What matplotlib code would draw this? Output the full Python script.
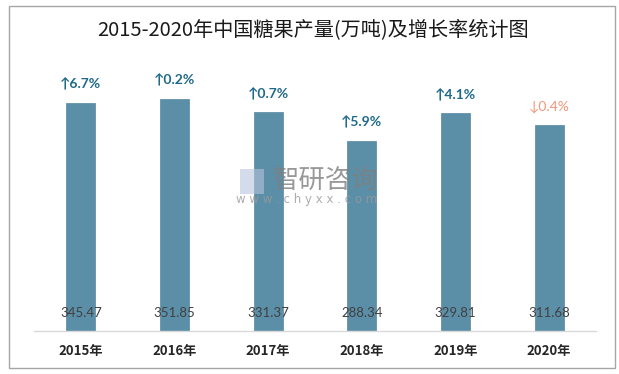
import matplotlib
matplotlib.use("Agg")
import matplotlib.pyplot as plt
from matplotlib.patches import Rectangle

plt.rcParams['font.family'] = ['Noto Sans CJK SC', 'DejaVu Sans']

years = ['2015年', '2016年', '2017年', '2018年', '2019年', '2020年']
output = [345.47, 351.85, 331.37, 288.34, 329.81, 311.68]
growth = [6.7, 0.2, 0.7, 5.9, 4.1, -0.4]

W, H = 619, 374
fig = plt.figure(figsize=(W / 100, H / 100), dpi=100)
fig.patch.set_facecolor('white')

# outer frame
fig.add_artist(Rectangle((9 / W, 1 - 368 / H), (615 - 9) / W, (368 - 6) / H,
                         transform=fig.transFigure, fill=False,
                         edgecolor='#a6a6a6', linewidth=1))

ax_left, ax_right = 34, 596
ax_bottom, ax_top = 331, 67
ax = fig.add_axes([ax_left / W, 1 - ax_bottom / H, (ax_right - ax_left) / W, (ax_bottom - ax_top) / H])

x = list(range(len(years)))
ax.bar(x, output, width=0.31, color='#5b8fa8', edgecolor='#5587a0', linewidth=0.5, zorder=2)
ax.set_xlim(-0.5, len(years) - 0.5)
ax.set_ylim(0, 400)

for s in ['top', 'right', 'left']:
    ax.spines[s].set_visible(False)
ax.spines['bottom'].set_color('#d9d9d9')
ax.spines['bottom'].set_linewidth(1)
ax.set_yticks([])
ax.set_xticks(x)
ax.set_xticklabels(years, fontsize=9.5, fontweight='bold', color='#262626')
ax.tick_params(axis='x', length=0, pad=9)

for i, v in enumerate(output):
    ax.text(i, 27, f'{v:.2f}', ha='center', va='center', fontsize=9.5, color='#404040',
            family=['Lato', 'DejaVu Sans'], zorder=3)

for i, (v, g) in enumerate(zip(output, growth)):
    if g >= 0:
        s = f'↑{g:.1f}%'
        col = '#1f6a8a'
        fw = 'bold'
    else:
        s = f'↓{abs(g):.1f}%'
        col = '#f0977a'
        fw = 'normal'
    ax.text(i, v + 28, s, ha='center', va='center', fontsize=10, color=col, fontweight=fw,
            family=['Lato', 'Noto Sans CJK SC', 'DejaVu Sans'], zorder=3)

fig.text(0.506, 1 - 30 / H, '2015-2020年中国糖果产量(万吨)及增长率统计图', ha='center', va='center',
         fontsize=14.5, color='#1a1a1a')

# watermark
fig.text(326 / W, 1 - 180 / H, '智研咨询', ha='center', va='center', fontsize=19,
         color='#7f7f7f', alpha=0.8)
fig.text(307 / W, 1 - 200 / H, 'w w w . c h y x x . c o m', ha='center', va='center', fontsize=8.5,
         color='#999999', alpha=0.8, family=['DejaVu Sans'])
fig.add_artist(Rectangle((240 / W, 1 - 194 / H), 24 / W, 25 / H, transform=fig.transFigure,
                         facecolor='#b8c4dc', edgecolor='none', alpha=0.6))

fig.savefig('out.png', dpi=100)
